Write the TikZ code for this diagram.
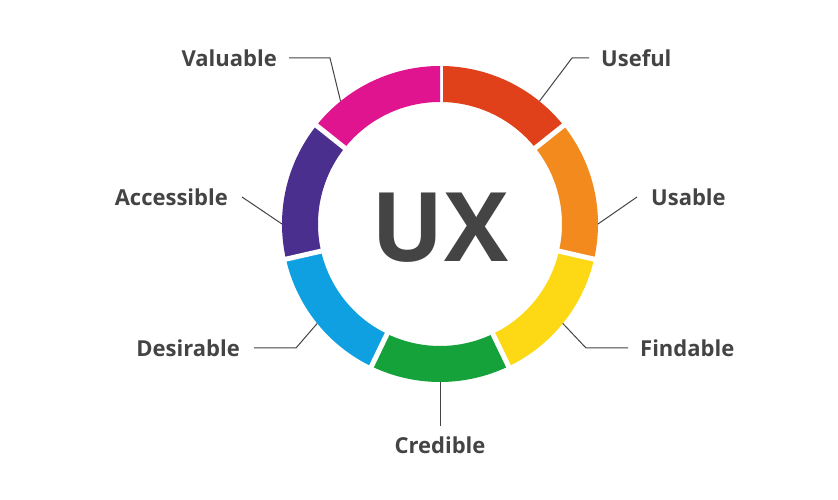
\documentclass[tikz,border=0pt]{standalone}
\usepackage{fontspec}
\setmainfont{Open Sans}
\usetikzlibrary{calc}
\definecolor{cRed}{HTML}{E0401A}
\definecolor{cOra}{HTML}{F28A1E}
\definecolor{cYel}{HTML}{FDD915}
\definecolor{cGre}{HTML}{16A23A}
\definecolor{cBlu}{HTML}{0EA0E0}
\definecolor{cPur}{HTML}{4A2F8F}
\definecolor{cMag}{HTML}{E0148E}
\definecolor{txt}{HTML}{444444}
\begin{document}
\begin{tikzpicture}[x=1pt,y=1pt,
  lab/.style={text=txt,font=\bfseries\fontsize{22}{24}\selectfont,inner sep=0pt},
  lead/.style={draw=txt,line width=1pt}]
\useasboundingbox[fill=white] (0,0) rectangle (838,500);
\def\R{158}\def\r{122}
\coordinate (c) at (440,276);
\foreach \a/\b/\col in {90/38.57/cRed, 38.57/-12.86/cOra, -12.86/-64.29/cYel, -64.29/-115.71/cGre, -115.71/-167.14/cBlu, -167.14/-218.57/cPur, -218.57/-270/cMag}{
  \fill[\col] ($(c)+(\a:\R)$) arc[start angle=\a,end angle=\b,radius=\R] -- ($(c)+(\b:\r)$) arc[start angle=\b,end angle=\a,radius=\r] -- cycle;
  \draw[white,line width=5pt] ($(c)+(\a:\r-3)$) -- ($(c)+(\a:\R+3)$);
}
\node[text=txt,font=\bfseries\fontsize{96}{100}\selectfont,inner sep=0pt] (ux) at (440,272) {UX};
\coordinate (pUse) at ($(c)+(51:\R)$);
\coordinate (pVal) at ($(c)+(129:\R)$);
\coordinate (pAcc) at ($(c)+(180:\R)$);
\coordinate (pUsa) at ($(c)+(0:\R)$);
\coordinate (pFin) at ($(c)+(-39:\R)$);
\coordinate (pDes) at ($(c)+(-141:\R)$);
\coordinate (pCre) at ($(c)+(-90:\R)$);
\node[lab,anchor=west] (use) at (601,442) {Useful};
\node[lab,anchor=east] (val) at (277,442) {Valuable};
\node[lab,anchor=east] (acc) at (228,303) {Accessible};
\node[lab,anchor=west] (usa) at (651,303) {Usable};
\node[lab,anchor=west] (fin) at (640,152) {Findable};
\node[lab,anchor=east] (des) at (240,152) {Desirable};
\node[lab] (cre) at (440,55) {Credible};
\draw[lead] (pUse) -- (572,442) -- ([xshift=-12pt]use.west);
\draw[lead] (pVal) -- (330,442) -- ([xshift=12pt]val.east);
\draw[lead] (pAcc) -- ([xshift=14pt]acc.east);
\draw[lead] (pUsa) -- ([xshift=-14pt]usa.west);
\draw[lead] (pFin) -- (586,152) -- ([xshift=-12pt]fin.west);
\draw[lead] (pDes) -- (296,152) -- ([xshift=14pt]des.east);
\draw[lead] (pCre) -- ([yshift=10pt]cre.north);
\end{tikzpicture}
\end{document}
